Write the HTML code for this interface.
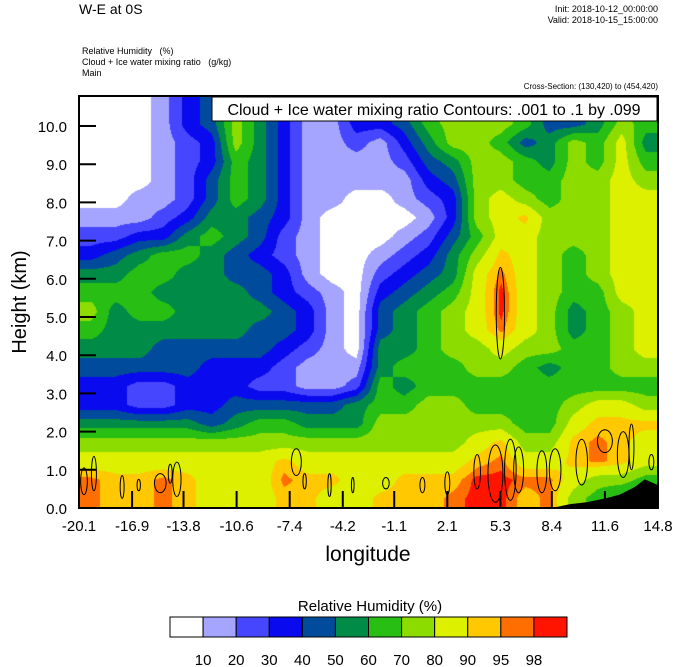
<!DOCTYPE html>
<html><head><meta charset="utf-8">
<style>
body{margin:0;background:#fff;width:674px;height:667px;overflow:hidden;position:relative;font-family:"Liberation Sans",sans-serif;}
.t{position:absolute;white-space:nowrap;color:#000;}
canvas{position:absolute;left:79px;top:96px;}
svg{position:absolute;left:0;top:0;}
</style></head><body>
<div class="t" style="left:79px;top:1px;font-size:14px;">W-E at 0S</div>
<div class="t" style="right:16px;top:4px;font-size:9px;text-align:right;">Init: 2018-10-12_00:00:00</div>
<div class="t" style="right:16px;top:15px;font-size:9px;text-align:right;">Valid: 2018-10-15_15:00:00</div>
<div class="t" style="left:82px;top:46px;font-size:9px;">Relative Humidity &nbsp; (%)</div>
<div class="t" style="left:82px;top:57px;font-size:9px;">Cloud + Ice water mixing ratio &nbsp; (g/kg)</div>
<div class="t" style="left:82px;top:68px;font-size:9px;">Main</div>
<div class="t" style="right:16px;top:82px;font-size:8px;">Cross-Section: (130,420) to (454,420)</div>
<canvas id="field" width="579" height="412"></canvas>
<svg id="ov" width="674" height="667"></svg>
<script>
const classColors=["#ffffff","#a5a5ff","#4646ff","#0a0aee","#004b9b","#008c46","#28be14","#8cdc00","#dcf000","#ffc800","#ff6e00","#ff1400"];
const rhLevels=[10,20,30,40,50,60,70,80,90,95,98];
const levelLabels=["10","20","30","40","50","60","70","80","90","95","98"];
const yTickVals=[0,1,2,3,4,5,6,7,8,9,10];
const xTickVals=[-20.1,-16.9,-13.8,-10.6,-7.4,-4.2,-1.1,2.1,5.3,8.4,11.6,14.8];
const rhGrid=[
[0,0,0,1,3,4,7,5,3,1,1,4, 3,5,7,7,7,7,6,4,4,5,6,6],
[0,0,0,1,3,4,7,5,3,1,1,3, 3,4,6,7,7,7,6,4,4,5,7,6],
[0,0,0,1,2,3,7,5,3,1,1,2, 1,3,5,7,7,6,4,5,7,6,8,5],
[0,0,0,1,2,3,6,5,3,1,1,1, 1,2,4,5,7,7,6,5,7,6,8,6],
[0,0,0,1,2,4,6,5,3,1,1,1, 1,1,3,4,7,7,6,6,7,7,8,7],
[0,0,1,1,2,4,6,5,3,1,1,0, 0,1,2,3,7,8,7,6,7,7,8,8],
[1,1,1,2,3,5,5,4,3,1,0,0, 0,0,1,3,7,8,9,7,7,7,8,8],
[2,2,3,3,5,6,5,4,2,1,0,0, 0,1,2,4,6,8,8,7,7,7,8,8],
[3,4,5,6,6,5,4,3,2,1,0,0, 1,2,3,5,7,9,8,7,6,7,8,8],
[5,5,6,6,5,5,4,4,3,1,0,0, 2,3,4,5,8,10,8,7,6,7,8,8],
[6,6,6,5,5,5,5,4,3,2,1,0, 3,4,5,6,8,11,8,7,6,6,8,8],
[7,5,6,6,5,5,5,5,4,3,1,0, 4,5,6,7,8,11,8,7,5,6,7,8],
[6,5,5,5,5,5,5,4,4,3,1,0, 4,5,6,7,8,10,8,7,5,6,7,8],
[5,5,5,4,4,4,4,4,3,2,1,0, 5,5,6,7,7,8,7,7,6,6,7,8],
[4,4,4,4,4,3,3,3,2,1,1,1, 5,6,6,6,7,7,6,5,6,6,7,7],
[3,3,2,2,3,3,3,2,2,1,1,2, 6,5,6,6,6,6,6,6,6,6,6,6],
[3,3,2,2,3,3,4,4,4,4,4,5, 6,6,7,7,6,6,6,6,7,8,8,7],
[5,5,5,5,5,4,5,6,6,5,5,5, 7,7,7,7,7,7,6,6,8,9,9,9],
[7,7,7,7,7,7,7,7,7,7,7,7, 7,7,7,7,8,9,7,7,9,10,9,8],
[8,8,8,8,8,8,8,8,9,8,8,8, 8,8,8,8,9,10,8,8,9,10,9,8],
[10,9,9,10,9,8,8,8,10,9,9,8, 8,9,9,9,11,11,10,10,8,7,7,6],
[10,9,9,10,9,8,8,8,9,9,8,8, 9,9,9,10,11,11,9,10,7,6,5,5]
];
const terrainLon=[8.4,9.5,10.5,11.6,12.5,13.4,14.0,14.8];
const terrainHt=[0.0,0.1,0.15,0.25,0.35,0.55,0.75,0.6];
const cloudLon=[-19.8,-17.5,-16.5,-15.2,-14.2,-14.6,-7.0,-6.5,-5.0,-3.6,-1.6,0.6,2.1,3.9,5.3,5.0,5.9,6.4,7.8,8.6,10.2,11.6,12.7,13.2,14.4,-19.2];
const cloudHt=[0.7,0.55,0.6,0.65,0.75,0.9,1.2,0.7,0.6,0.6,0.65,0.6,0.65,0.95,5.1,0.9,1.0,1.0,0.95,1.0,1.2,1.75,1.4,1.6,1.2,0.9];
const cloudW=[0.2,0.12,0.1,0.35,0.25,0.12,0.3,0.1,0.1,0.08,0.2,0.15,0.15,0.2,0.25,0.45,0.35,0.3,0.3,0.35,0.35,0.45,0.35,0.15,0.15,0.15];
const cloudH=[0.35,0.3,0.15,0.25,0.45,0.25,0.35,0.2,0.3,0.2,0.15,0.2,0.3,0.45,1.2,0.75,0.8,0.6,0.55,0.55,0.6,0.3,0.6,0.6,0.2,0.45];

const PL=79,PT=96,PW=579,PH=412,LON0=-20.1,LON1=14.8,HMAX=412/38.2;
const xs=l=>PL+(l-LON0)/(LON1-LON0)*PW;
const ys=h=>PT+PH-h/HMAX*PH;
const mids=[5,15,25,35,45,55,65,75,85,92.5,96.5,99.5];
function cls(v){let k=0;for(let i=0;i<rhLevels.length;i++)if(v>=rhLevels[i])k=i+1;return k;}
function hex(c){return[parseInt(c.substr(1,2),16),parseInt(c.substr(3,2),16),parseInt(c.substr(5,2),16)];}
const rgb=classColors.map(hex);
(function(){
 const cv=document.getElementById('field'),ctx=cv.getContext('2d');
 const img=ctx.createImageData(PW,PH);
 const R=rhGrid.length,C=rhGrid[0].length,cw=PW/C,rh=PH/R;
 for(let y=0;y<PH;y++){
  let fy=(y+0.5)/rh-0.5;fy=Math.max(0,Math.min(R-1,fy));const y0=Math.floor(fy),y1=Math.min(R-1,y0+1),ty=fy-y0;
  for(let x=0;x<PW;x++){
   let fx=(x+0.5)/cw-0.5;fx=Math.max(0,Math.min(C-1,fx));const x0=Math.floor(fx),x1=Math.min(C-1,x0+1),tx=fx-x0;
   const v=(mids[rhGrid[y0][x0]]*(1-tx)+mids[rhGrid[y0][x1]]*tx)*(1-ty)+(mids[rhGrid[y1][x0]]*(1-tx)+mids[rhGrid[y1][x1]]*tx)*ty;
   const c=rgb[cls(v)],i=(y*PW+x)*4;img.data[i]=c[0];img.data[i+1]=c[1];img.data[i+2]=c[2];img.data[i+3]=255;
  }
 }
 ctx.putImageData(img,0,0);
})();
const NS="http://www.w3.org/2000/svg",svg=document.getElementById('ov');
function mk(t,a,p){const e=document.createElementNS(NS,t);for(const k in a)e.setAttribute(k,a[k]);(p||svg).appendChild(e);return e;}
let tp=terrainLon.map((l,i)=>xs(l)+","+ys(terrainHt[i])).join(" ");
tp+=" "+xs(14.8)+","+ys(0)+" "+xs(8.4)+","+ys(0);
const terr=mk('polygon',{points:tp,fill:'#000'});


cloudLon.forEach((l,i)=>{
 const e=mk('ellipse',{cx:xs(l),cy:ys(cloudHt[i]),rx:cloudW[i]/(LON1-LON0)*PW,ry:cloudH[i]/HMAX*PH,fill:'none',stroke:'#000','stroke-width':1});
 
 
});
const fr=mk('rect',{x:PL,y:PT,width:PW,height:PH,fill:'none',stroke:'#000','stroke-width':2});


yTickVals.forEach(v=>{
 const y=ys(v);
 const tk=mk('line',{x1:PL,x2:PL+17,y1:y,y2:y,stroke:'#000','stroke-width':2});
 
 
 const t=mk('text',{x:67,y:y+6,'text-anchor':'end','font-size':15,'font-family':'Liberation Sans, sans-serif'});
 t.textContent=v.toFixed(1);
 
 
});
xTickVals.forEach(v=>{
 const x=xs(v);
 const tk=mk('line',{x1:x,x2:x,y1:PT+PH,y2:PT+PH-17,stroke:'#000','stroke-width':2});
 
 
 const t=mk('text',{x:x,y:531,'text-anchor':'middle','font-size':15,'font-family':'Liberation Sans, sans-serif'});
 t.textContent=v.toFixed(1);
 
 
});
const yt=mk('text',{x:0,y:0,transform:'translate(26,302) rotate(-90)','text-anchor':'middle','font-size':20,'font-family':'Liberation Sans, sans-serif'});
yt.textContent='Height (km)';


const xt=mk('text',{x:368,y:561,'text-anchor':'middle','font-size':21,'font-family':'Liberation Sans, sans-serif'});
xt.textContent='longitude';


const bx=mk('rect',{x:212,y:97,width:445,height:24,fill:'#fff',stroke:'#000','stroke-width':1});


const bt=mk('text',{x:434,y:115,'text-anchor':'middle','font-size':16,'font-family':'Liberation Sans, sans-serif'});
bt.textContent='Cloud + Ice water mixing ratio Contours: .001 to .1 by .099';


const CB0=170,CBW=(567-170)/classColors.length;
const cbt=mk('text',{x:370,y:611,'text-anchor':'middle','font-size':15,'font-family':'Liberation Sans, sans-serif'});
cbt.textContent='Relative Humidity  (%)';


classColors.forEach((c,i)=>{
 const r=mk('rect',{x:CB0+i*CBW,y:617,width:CBW,height:20,fill:c,stroke:'#000','stroke-width':1});
 
 
});
levelLabels.forEach((s,i)=>{
 const t=mk('text',{x:CB0+(i+1)*CBW,y:665,'text-anchor':'middle','font-size':15,'font-family':'Liberation Sans, sans-serif'});
 t.textContent=s;
 
 
});
</script>
</body></html>
